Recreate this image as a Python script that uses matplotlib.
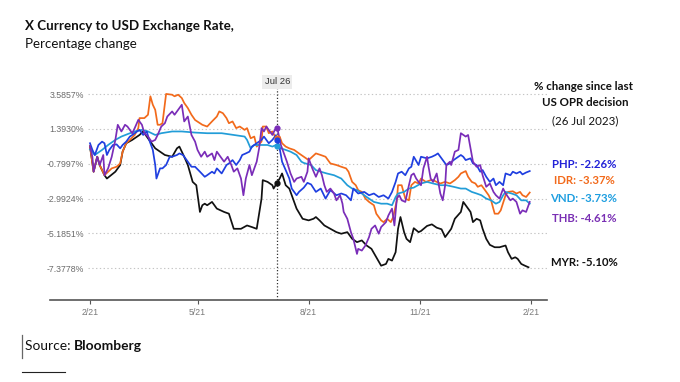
import numpy as np
import pandas as pd
import matplotlib
matplotlib.use("agg")
import matplotlib.pyplot as plt
from matplotlib.lines import Line2D

# Days since 21 Feb 2023 and % change
START = pd.Timestamp("2023-02-21")
EVENT = pd.Timestamp("2023-07-26")

myr_days = [0, 3, 6, 8, 12, 14, 21, 25, 27, 30, 35, 41,
            44, 48, 54, 62, 68, 72, 74, 78, 81, 85,
            88, 91, 93, 95, 97, 101, 105, 111, 115, 119,
            125, 130, 134, 138, 142, 143, 147, 151, 152, 157,
            159, 162, 165, 167, 171, 176, 181, 185, 187, 190,
            194, 199, 204, 208, 213, 217, 221, 225, 229, 233,
            237, 241, 245, 247, 250, 253, 255, 257, 260, 262,
            265, 268, 272, 274, 279, 283, 287, 291, 294, 297,
            299, 302, 307, 309, 311, 315, 317, 320, 323, 325,
            328, 331, 335, 339, 344, 346, 349, 352, 354, 357,
            360, 363]
myr_vals = [0.3, -1.30, -0.36, -0.88, -1.52, -1.73, -1.30, -0.88, -0.04, 0.49, 0.70, 1.01,
            1.23, 0.80, 0.17, -0.25, -0.36, 0.17, 0.28, -0.36, -0.88, -1.94,
            -2.15, -3.83, -3.41, -3.31, -3.41, -3.20, -3.62, -3.83, -3.94, -4.89,
            -4.89, -4.68, -4.78, -4.89, -2.99, -1.83, -1.94, -2.15, -2.36, -1.73,
            -1.41, -2.15, -2.36, -2.78, -3.62, -4.26, -4.36, -4.26, -4.15, -4.36,
            -4.68, -4.89, -5.10, -5.20, -5.10, -5.52, -5.73, -5.62, -5.94, -6.15,
            -6.68, -7.21, -7.10, -6.78, -6.89, -6.36, -4.89, -4.15, -5.10, -5.52,
            -5.73, -4.85, -5.10, -5.03, -4.71, -4.61, -4.82, -4.92, -5.41, -5.10,
            -4.89, -4.26, -3.83, -3.20, -3.41, -3.83, -4.47, -4.26, -4.36, -4.89,
            -5.52, -5.90, -6.05, -6.05, -5.94, -6.36, -6.78, -6.68, -6.78, -7.10,
            -7.21, -7.31]

idr_days = [0, 3, 6, 8, 12, 18, 22, 25, 27, 30, 33,
            37, 40, 41, 45, 48, 50, 52, 54, 56, 58,
            60, 63, 68, 70, 73, 76, 78, 81, 84, 87,
            91, 93, 97, 101, 105, 107, 110, 113, 115, 118,
            121, 124, 128, 130, 133, 136, 138, 142, 143, 146,
            148, 151, 154, 157, 159, 162, 165, 169, 173, 177,
            181, 184, 187, 191, 195, 199, 204, 208, 212, 214,
            217, 220, 222, 225, 228, 231, 235, 237, 241, 243,
            246, 249, 251, 254, 255, 258, 261, 264, 266, 269,
            272, 274, 278, 282, 284, 287, 290, 294, 298, 302,
            305, 307, 311, 313, 316, 319, 321, 324, 327, 330,
            332, 335, 338, 340, 344, 346, 350, 353, 356, 358,
            361, 364]
idr_vals = [0.3, -1.30, -0.36, -0.88, -1.52, -1.09, -0.99, -0.78, -0.04, 0.49, 0.70,
            1.01, 1.44, 2.07, 2.07, 2.28, 3.44, 2.91, 2.59, 1.65, 1.65,
            1.75, 3.59, 3.54, 3.44, 3.54, 3.33, 3.02, 2.70, 2.28, 1.95,
            1.75, 1.65, 1.54, 1.86, 2.17, 2.49, 2.38, 2.07, 1.75, 1.86,
            1.44, 1.54, 1.33, 1.44, 0.80, 0.91, 0.28, 0.59, 1.54, 1.54,
            1.12, 1.23, 0.80, 0.91, 0.49, 0.28, 0.17, 0.07, -0.15, -0.36,
            -0.57, -0.36, -0.15, -0.25, -0.36, -0.78, -0.88, -0.99, -1.09, -1.30,
            -1.94, -2.15, -2.46, -2.57, -2.99, -3.20, -3.41, -3.94, -4.36, -4.47,
            -4.26, -4.47, -4.15, -3.10, -2.15, -2.15, -2.99, -3.10, -2.15, -1.94,
            -2.04, -1.73, -1.94, -1.83, -1.83, -1.94, -2.04, -1.94, -2.04, -1.83,
            -1.62, -1.41, -1.26, -1.62, -1.94, -2.04, -2.25, -2.15, -2.46, -2.78,
            -3.10, -3.94, -3.94, -3.73, -2.78, -2.57, -2.53, -2.67, -2.57, -2.78,
            -2.89, -2.61]

vnd_days = [0, 4, 10, 15, 21, 26, 31, 37, 43, 48,
            54, 59, 68, 76, 87, 97, 109, 119, 128, 130,
            133, 136, 142, 147, 151, 154, 158, 162, 166, 171,
            175, 177, 183, 187, 191, 196, 202, 208, 213, 217,
            221, 225, 229, 235, 241, 246, 250, 253, 255, 260,
            264, 268, 274, 279, 284, 290, 295, 301, 307, 311,
            316, 320, 324, 328, 332, 336, 339, 342, 344, 349,
            353, 357, 361, 364]
vnd_vals = [0.1, -0.25, 0.07, 0.38, 0.70, 0.91, 1.06, 1.23, 1.33, 1.23,
            1.01, 1.12, 1.23, 1.23, 1.16, 1.12, 1.12, 1.01, 0.91, 0.70,
            0.17, 0.38, 0.38, 0.38, 0.28, 0.38, 0.17, 0.07, -0.04, -0.25,
            -0.67, -0.75, -0.88, -1.20, -1.30, -1.41, -1.52, -1.73, -2.15, -2.36,
            -2.46, -2.67, -2.89, -3.20, -3.31, -3.31, -3.41, -2.89, -2.67, -2.57,
            -2.36, -2.30, -2.04, -1.94, -2.04, -2.15, -2.15, -2.25, -2.36, -2.36,
            -2.57, -2.67, -2.78, -2.99, -3.10, -3.31, -3.20, -2.78, -2.57, -2.67,
            -2.78, -3.10, -3.10, -3.31]

php_days = [0, 2, 4, 7, 10, 12, 14, 16, 19, 22,
            25, 27, 30, 33, 35, 39, 41, 44, 47, 49,
            52, 54, 55, 58, 60, 63, 66, 68, 72, 74,
            77, 84, 87, 91, 95, 97, 101, 103, 105, 109,
            113, 115, 118, 121, 124, 126, 129, 132, 134, 138,
            142, 144, 148, 151, 154, 157, 159, 162, 165, 167,
            171, 173, 177, 180, 183, 187, 191, 195, 199, 204,
            208, 212, 216, 218, 222, 227, 231, 235, 239, 243,
            247, 250, 253, 255, 258, 261, 264, 266, 268, 272,
            274, 279, 283, 286, 288, 293, 295, 298, 301, 303,
            307, 309, 311, 315, 317, 320, 323, 325, 328, 331,
            334, 336, 339, 342, 344, 348, 350, 353, 356, 358,
            361, 364]
php_vals = [0.49, 0.07, -0.25, 0.38, 0.59, 0.49, -0.25, 0.07, 0.38, 0.42,
            0.17, 0.38, 0.59, 0.91, 1.01, 1.23, 1.33, 1.01, 1.23, 0.70,
            0.07, -0.88, -1.73, -1.09, -1.09, -0.88, -0.36, -0.36, -0.25, -0.15,
            -0.25, -0.99, -0.99, -1.30, -1.62, -1.52, -1.30, -1.41, -1.09, -1.41,
            -0.88, -0.78, -0.57, -0.88, -0.57, -0.25, -0.15, -0.04, 0.28, 0.49,
            0.70, 0.91, 0.49, 0.70, 1.00, 0.17, -0.67, -1.20, -1.73, -2.36,
            -2.78, -2.57, -2.30, -2.00, -2.10, -2.57, -2.36, -2.99, -2.46, -2.78,
            -2.67, -2.78, -3.10, -2.36, -2.67, -2.57, -2.78, -2.67, -2.89, -2.78,
            -2.99, -2.57, -1.94, -1.41, -1.30, -1.52, -1.09, -0.99, -0.36, -0.88,
            -0.36, -0.46, -0.36, -0.25, -0.15, -0.67, -0.88, -0.78, -0.57, -0.46,
            -0.25, -0.36, -0.57, -0.46, -0.78, -0.88, -1.30, -1.20, -1.62, -1.94,
            -1.73, -2.15, -1.94, -2.15, -1.41, -1.52, -1.30, -1.41, -1.30, -1.47,
            -1.35, -1.26]

thb_days = [0, 2, 3, 6, 8, 11, 12, 15, 18, 21,
            23, 26, 29, 31, 35, 37, 40, 43, 45, 48,
            51, 54, 56, 59, 62, 64, 68, 70, 73, 76,
            78, 81, 84, 87, 89, 92, 95, 97, 101, 103,
            105, 109, 111, 114, 117, 119, 122, 125, 127, 129,
            132, 134, 138, 140, 142, 144, 146, 148, 151, 153,
            155, 158, 161, 163, 166, 169, 171, 175, 177, 180,
            181, 184, 187, 190, 192, 194, 196, 199, 202, 204,
            207, 209, 210, 213, 216, 218, 221, 222, 225, 228,
            231, 233, 236, 239, 241, 245, 247, 250, 252, 254,
            256, 258, 261, 264, 266, 268, 270, 274, 276, 279,
            280, 282, 284, 287, 290, 292, 294, 295, 298, 299,
            302, 305, 307, 311, 313, 315, 317, 320, 323, 325,
            328, 331, 334, 336, 339, 342, 344, 348, 350, 353,
            356, 358, 361, 364]
thb_vals = [0.3, -0.36, -1.30, -0.36, -0.88, -0.25, -1.52, -1.09, -0.36, 0.70,
            1.65, 1.23, 1.65, 1.54, 1.12, 1.44, 1.96, 1.65, 1.12, 0.91,
            0.59, 0.70, 1.01, 1.54, 1.75, 2.17, 2.49, 2.28, 2.59, 2.91,
            1.86, 2.17, 1.01, 0.59, 0.07, -0.36, -0.04, -0.36, -0.15, -0.57,
            -0.04, -0.46, -0.67, -0.36, -0.88, -1.30, -1.09, -1.73, -2.78, -1.73,
            -0.88, -1.52, -0.67, 0.17, 1.44, 1.23, 1.54, 1.33, 1.01, 1.33,
            1.44, 0.38, -0.25, -0.67, -1.41, -1.94, -1.73, -1.62, -1.94, -1.30,
            -0.46, -1.09, -1.62, -1.09, -1.52, -2.15, -2.57, -2.36, -2.67, -3.10,
            -2.78, -3.31, -3.83, -4.26, -5.10, -5.52, -6.47, -6.15, -6.26, -5.94,
            -5.41, -4.89, -4.68, -5.20, -4.78, -4.47, -4.05, -3.62, -4.68, -2.99,
            -2.78, -3.10, -3.20, -2.15, -1.52, -1.41, -1.73, -2.15, -1.09, -0.36,
            -0.88, -1.73, -1.94, -1.41, -2.67, -3.10, -2.15, -0.88, -0.67, -0.88,
            -0.04, 0.07, 1.12, 0.91, 1.01, 0.17, -0.67, -0.99, -0.88, -1.52,
            -2.25, -2.04, -2.57, -2.78, -2.99, -2.36, -2.67, -3.10, -2.99, -3.20,
            -3.94, -3.73, -3.83, -3.20]

yticks = [3.5857, 1.3930, -0.7997, -2.9924, -5.1851, -7.3778]
ytick_labels = ["3.5857%", "1.3930%", "-0.7997%", "-2.9924%", "-5.1851%", "-7.3778%"]
xtick_dates = ["2023-02-21", "2023-05-21", "2023-08-21", "2023-11-21", "2024-02-21"]
xtick_labels = ["2/21", "5/21", "8/21", "11/21", "2/21"]

label_names = ["PHP", "IDR", "VND", "THB", "MYR"]
label_changes = [-2.26, -3.37, -3.73, -4.61, -5.10]

colors = {"PHP": "#1f3fe0", "IDR": "#f26a1b", "VND": "#229dd8",
          "THB": "#7a2db8", "MYR": "#111111"}
label_colors = {"PHP": "#2020d8", "IDR": "#f26a1b", "VND": "#1e9ee0",
                "THB": "#7a30b4", "MYR": "#111111"}

# Drawing order: bottom to top
series = [
    ("MYR", myr_days, myr_vals),
    ("IDR", idr_days, idr_vals),
    ("VND", vnd_days, vnd_vals),
    ("PHP", php_days, php_vals),
    ("THB", thb_days, thb_vals),
]

W, H = 680, 382


def fx(x):
    return x / W


def fy(y):
    return 1 - y / H


fig = plt.figure(figsize=(6.8, 3.82), dpi=100)
ax = fig.add_axes([fx(50), fy(300), (547 - 50) / W, (300 - 88) / H])

event_day = (EVENT - START).days
for name, days, vals in series:
    dates = START + pd.to_timedelta(days, unit="D")
    ax.plot(dates, vals, color=colors[name], lw=1.25, solid_joinstyle="round", zorder=3)
    ax.plot([EVENT], [np.interp(event_day, days, vals)], "o", ms=3.5,
            color=colors[name], zorder=4)

# Axis ranges
ax.set_xlim(START - pd.Timedelta(days=33.1), START + pd.Timedelta(days=378.3))
ax.set_ylim(-9.367, 3.963)

# Gridlines start right of the y labels
for yv in yticks:
    ax.axhline(yv, xmin=(88 - 50) / 497, xmax=1, color="#c4c4c4", lw=0.8,
               ls=(0, (1.2, 2.2)), zorder=1)

ax.set_yticks(yticks)
ax.set_yticklabels(ytick_labels)
ax.tick_params(axis="y", length=0, pad=-24.3, labelsize=6.3, labelcolor="#6b6b6b")
for t in ax.get_yticklabels():
    t.set_fontfamily("Liberation Sans")

ax.set_xticks(pd.to_datetime(xtick_dates))
ax.set_xticklabels(xtick_labels)
ax.tick_params(axis="x", length=3, width=0.8, color="#555555", pad=2.5,
               labelsize=6.3, labelcolor="#7a7a7a")
for t in ax.get_xticklabels():
    t.set_fontfamily("Liberation Sans")

for s in ["top", "left", "right"]:
    ax.spines[s].set_visible(False)
ax.spines["bottom"].set_color("#555555")
ax.spines["bottom"].set_linewidth(1.2)
ax.set_facecolor("none")

# Event marker line
ax.axvline(EVENT, color="#333333", lw=0.9, ls=(0, (1, 1.6)), zorder=2)
ax.annotate("Jul 26", xy=(EVENT, 1), xycoords=("data", "axes fraction"),
            xytext=(0, 4.5), textcoords="offset points", ha="center", va="center",
            fontsize=6.8, color="#333333", family="Liberation Sans",
            bbox=dict(boxstyle="square,pad=0.25", fc="#ececec", ec="none"))

# Titles
fig.text(fx(25), fy(26), "X Currency to USD Exchange Rate,", fontsize=9.6,
         fontweight="bold", family="Lato", va="center", ha="left", color="#111111")
fig.text(fx(25), fy(44), "Percentage change", fontsize=9.6, family="Lato",
         va="center", ha="left", color="#111111")

# Right-hand annotation block
fig.text(fx(584), fy(87), "% change since last", fontsize=8.3, fontweight="bold",
         family="Lato", ha="center", va="center", color="#111111")
fig.text(fx(585), fy(103), "US OPR decision", fontsize=8.3, fontweight="bold",
         family="Lato", ha="center", va="center", color="#111111")
fig.text(fx(585), fy(121), "(26 Jul 2023)", fontsize=8.3, family="Lato",
         ha="center", va="center", color="#111111")
label_y = [164, 181, 199, 218, 263]
for name, chg, yy in zip(label_names, label_changes, label_y):
    fig.text(fx(584), fy(yy), f"{name}: {chg:.2f}%", fontsize=8.2, fontweight="bold",
             family="Lato", ha="center", va="center", color=label_colors[name])

# Source line
src = fig.text(fx(25), fy(346), "Source: ", fontsize=9.9, family="Lato",
               ha="left", va="center", color="#111111")
ax.annotate("Bloomberg", xy=(1, 0.5), xycoords=src, ha="left", va="center",
            fontsize=9.9, family="Lato", fontweight="bold", color="#111111")
fig.add_artist(Line2D([fx(22), fx(22)], [fy(335), fy(358)], color="#666666", lw=0.9))
fig.add_artist(Line2D([fx(22), fx(65)], [fy(372), fy(372)], color="#222222", lw=0.8))

fig.savefig("out.png", dpi=100)
